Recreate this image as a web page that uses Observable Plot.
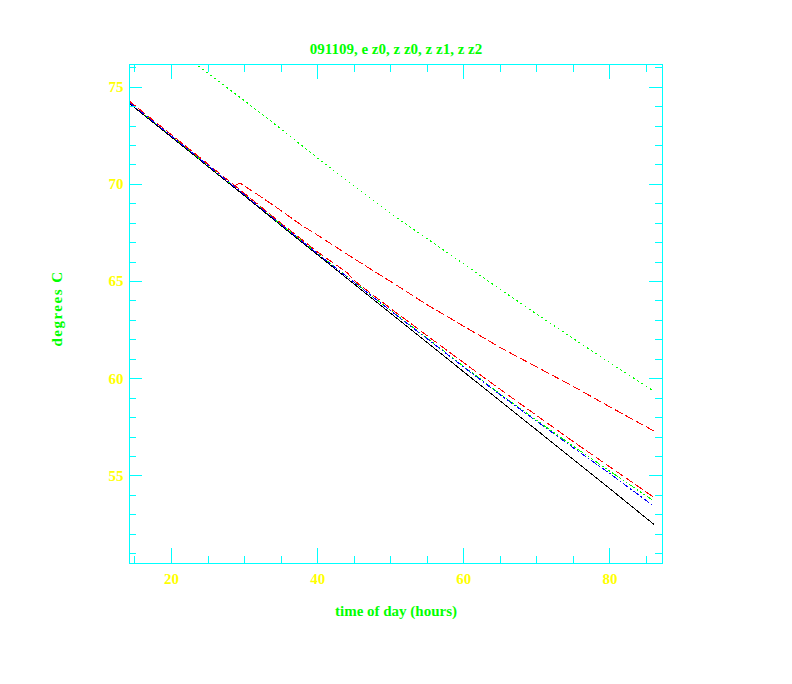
<!DOCTYPE html>
<html><head><meta charset="utf-8">
<script src="https://cdn.jsdelivr.net/npm/d3@7"></script>
<script src="https://cdn.jsdelivr.net/npm/@observablehq/plot@0.6"></script>
<style>html,body{margin:0;padding:0;background:#fff}#chart svg{display:block}</style>
</head><body><div id="chart"></div>
<script>
// ---- text ----
const title = "091109, e z0, z z0, z z1, z z2";
const xLabel = "time of day (hours)";
const yLabel = "degrees C";

// ---- axes ----
const xDomain = [14.25, 87.2];
const yDomain = [50.49, 76.17];
const xMajorTicks = [20, 40, 60, 80];
const xMinorTicks = [15, 25, 30, 35, 45, 50, 55, 65, 70, 75, 85];
const yMajorTicks = [55, 60, 65, 70, 75];
const yMinorTicks = [51, 52, 53, 54, 56, 57, 58, 59, 61, 62, 63, 64, 66, 67, 68, 69, 71, 72, 73, 74, 76];

// ---- series ----
const hoursBundle = [14.2, 20, 25, 30, 35, 40, 44, 45, 50, 55, 60, 65, 70, 75, 80, 86];
const tempBlack   = [74.17, 72.43, 70.92, 69.41, 67.88, 66.37, 65.17, 64.87, 63.36, 61.86, 60.35, 58.85, 57.35, 55.84, 54.34, 52.51];
const tempRedLow  = [74.29, 72.55, 71.04, 69.53, 68.00, 66.52, 65.47, 65.05, 63.61, 62.21, 60.82, 59.45, 58.10, 56.76, 55.46, 53.90];
const tempGreenLow= [74.22, 72.48, 70.97, 69.46, 67.93, 66.44, 65.26, 64.97, 63.51, 62.08, 60.63, 59.21, 57.85, 56.52, 55.24, 53.71];
const tempBlue    = [74.22, 72.48, 70.97, 69.46, 67.93, 66.43, 65.25, 64.96, 63.49, 62.05, 60.60, 59.17, 57.80, 56.44, 55.12, 53.44];

const hoursGreenUp = [20, 23.56, 30, 35, 40, 45, 50, 55, 60, 65, 70, 75, 80, 85.97];
const tempGreenUp  = [77.2, 76.13, 74.3, 72.85, 71.35, 69.9, 68.5, 67.2, 65.9, 64.6, 63.32, 62.06, 60.82, 59.37];

const hoursRedUp = [28.7, 29.4, 30.3, 32, 35, 37.6, 40.35, 45, 50, 55, 60, 65, 70, 75, 80, 85.97];
const tempRedUp  = [69.95, 70.07, 69.84, 69.42, 68.65, 67.95, 67.3, 66.17, 65.0, 63.8, 62.7, 61.6, 60.6, 59.6, 58.55, 57.32];

// ---- colours ----
const cyan = "#00ffff", yellow = "#ffff00", green = "#00ff00";

const rows = (xs, ys) => xs.map((h, i) => ({hour: h, temp: ys[i]}));

const W = 792, H = 684, mL = 129, mR = 130, mT = 64, mB = 121;
const fw = W - mL - mR, fh = H - mT - mB;
const font = "'Liberation Serif', 'Times New Roman', serif";

const lineOpts = (stroke, dash) => ({x: "hour", y: "temp", stroke, strokeWidth: 1, strokeDasharray: dash, clip: true, shapeRendering: "crispEdges"});
const textOpts = {fill: green, fontSize: 15, fontWeight: "bold", fontFamily: font, textAnchor: "middle", lineAnchor: "middle"};

const chart = Plot.plot({
  width: W, height: H,
  marginLeft: mL, marginRight: mR, marginTop: mT, marginBottom: mB,
  x: {domain: xDomain},
  y: {domain: yDomain},
  style: {background: "white", fontFamily: font, overflow: "visible"},
  marks: [
    Plot.line(rows(hoursGreenUp, tempGreenUp), lineOpts("#00ff00", "1,4")),
    Plot.line(rows(hoursRedUp, tempRedUp), lineOpts("#ff0000", "8,4")),
    Plot.line(rows(hoursBundle, tempBlack), lineOpts("#000000", null)),
    Plot.line(rows(hoursBundle, tempGreenLow), lineOpts("#00ff00", "6,3,1,3,1,3,1,3")),
    Plot.line(rows(hoursBundle, tempBlue), lineOpts("#0000ff", "6,3,1,3")),
    Plot.line(rows(hoursBundle, tempRedLow), lineOpts("#ff0000", "8,4")),
    Plot.frame({stroke: cyan, shapeRendering: "crispEdges"}),
    // inward ticks, bottom & top
    Plot.tickX(xMajorTicks, {x: d => d, stroke: cyan, insetTop: fh - 15, shapeRendering: "crispEdges"}),
    Plot.tickX(xMajorTicks, {x: d => d, stroke: cyan, insetBottom: fh - 15, shapeRendering: "crispEdges"}),
    Plot.tickX(xMinorTicks, {x: d => d, stroke: cyan, insetTop: fh - 7.5, shapeRendering: "crispEdges"}),
    Plot.tickX(xMinorTicks, {x: d => d, stroke: cyan, insetBottom: fh - 7.5, shapeRendering: "crispEdges"}),
    // inward ticks, left & right
    Plot.tickY(yMajorTicks, {y: d => d, stroke: cyan, insetRight: fw - 13, shapeRendering: "crispEdges"}),
    Plot.tickY(yMajorTicks, {y: d => d, stroke: cyan, insetLeft: fw - 13, shapeRendering: "crispEdges"}),
    Plot.tickY(yMinorTicks, {y: d => d, stroke: cyan, insetRight: fw - 7, shapeRendering: "crispEdges"}),
    Plot.tickY(yMinorTicks, {y: d => d, stroke: cyan, insetLeft: fw - 7, shapeRendering: "crispEdges"}),
    // tick labels
    Plot.axisX({ticks: xMajorTicks, tickSize: 0, tickPadding: 10, color: yellow, fontSize: 15, fontWeight: "bold", fontFamily: font, label: null}),
    Plot.axisY({ticks: yMajorTicks, tickSize: 0, tickPadding: 6, color: yellow, fontSize: 15, fontWeight: "bold", fontFamily: font, label: null}),
    // titles
    Plot.text([title], {...textOpts, text: d => d, frameAnchor: "top", dy: -15.6}),
    Plot.text([xLabel], {...textOpts, text: d => d, frameAnchor: "bottom", dy: 47.2}),
    Plot.text([yLabel], {...textOpts, text: d => d, frameAnchor: "left", rotate: -90, dx: -72, dy: -5.5})
  ]
});
// the reference's vertical label is drawn with wider letter spacing
d3.select(chart).selectAll("text").filter(function () { return this.textContent === yLabel; })
  .attr("letter-spacing", "1.5px");
document.getElementById("chart").append(chart);
</script>
</body></html>
